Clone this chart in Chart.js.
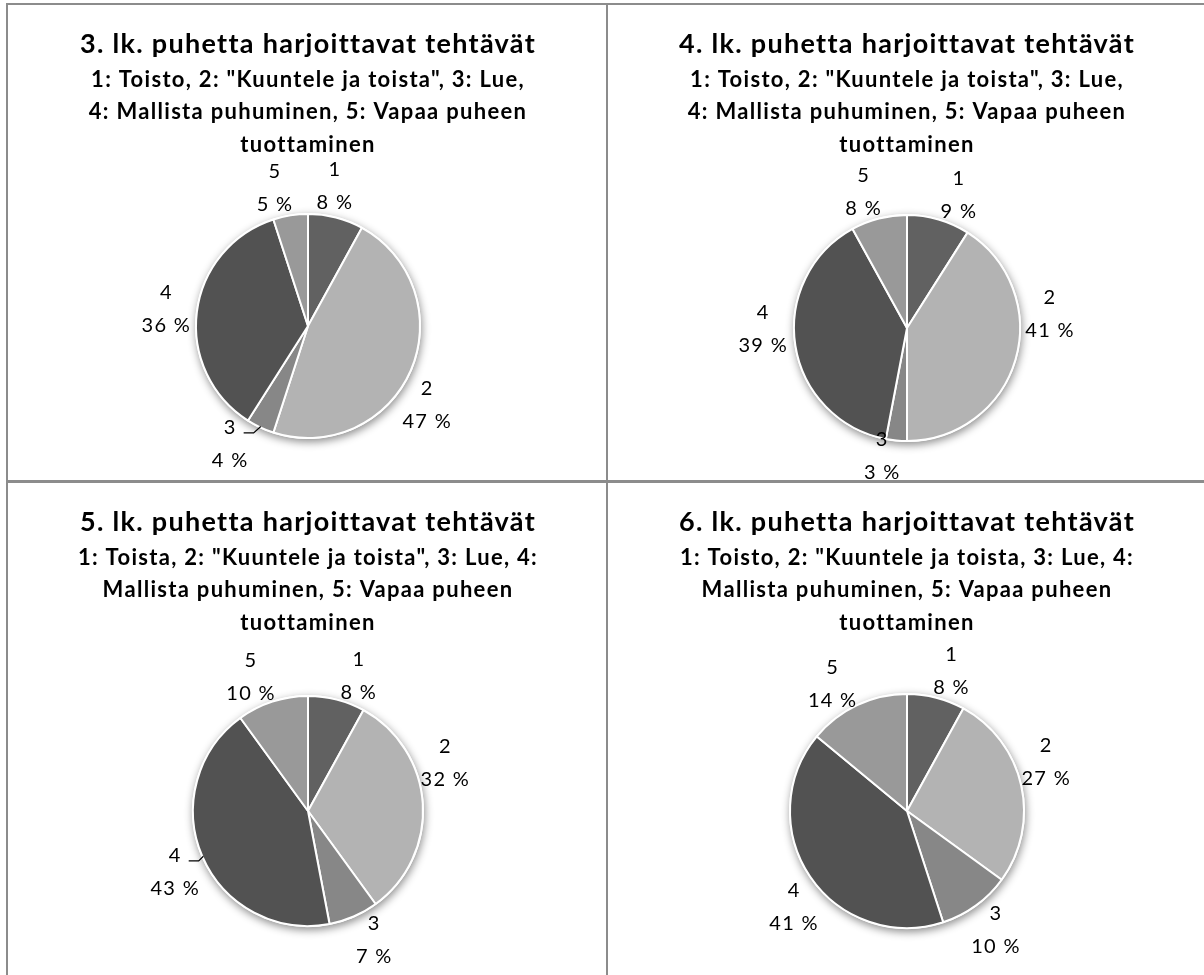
<!DOCTYPE html>
<html>
<head>
<meta charset="utf-8">
<script src="https://cdn.jsdelivr.net/npm/chart.js@4/dist/chart.umd.min.js"></script>
<style>
  html, body { margin: 0; padding: 0; background: #fff; }
  body { width: 1204px; height: 975px; position: relative; overflow: hidden; }
  .rule { position: absolute; background: #8c8c8c; }
  .panel { position: absolute; }
  .panel canvas { display: block; }
</style>
</head>
<body>
<div class="rule" style="left:6px;top:3px;width:2px;height:972px"></div>
<div class="rule" style="left:6px;top:3px;width:1198px;height:2px"></div>
<div class="rule" style="left:606px;top:3px;width:2px;height:972px"></div>
<div class="rule" style="left:6px;top:480px;width:1198px;height:3px"></div>

<div class="panel" style="left:8px;top:5px"><canvas id="grade3" width="598" height="475"></canvas></div>
<div class="panel" style="left:608px;top:5px"><canvas id="grade4" width="596" height="475"></canvas></div>
<div class="panel" style="left:8px;top:483px"><canvas id="grade5" width="598" height="492"></canvas></div>
<div class="panel" style="left:608px;top:483px"><canvas id="grade6" width="596" height="492"></canvas></div>

<script>
// Task categories (1..5) and the share of each task type per grade, in percent
const categories = ['1', '2', '3', '4', '5'];
const grade3Share = [8, 47, 4, 36, 5];
const grade4Share = [9, 41, 3, 39, 8];
const grade5Share = [8, 32, 7, 43, 10];
const grade6Share = [8, 27, 10, 41, 14];

const grade3Title = '3. lk. puhetta harjoittavat tehtävät';
const grade4Title = '4. lk. puhetta harjoittavat tehtävät';
const grade5Title = '5. lk. puhetta harjoittavat tehtävät';
const grade6Title = '6. lk. puhetta harjoittavat tehtävät';

const grade3Legend = ['1: Toisto, 2: "Kuuntele ja toista", 3: Lue,', '4: Mallista puhuminen, 5: Vapaa puheen', 'tuottaminen'];
const grade4Legend = ['1: Toisto, 2: "Kuuntele ja toista", 3: Lue,', '4: Mallista puhuminen, 5: Vapaa puheen', 'tuottaminen'];
const grade5Legend = ['1: Toista, 2: "Kuuntele ja toista", 3: Lue, 4:', 'Mallista puhuminen, 5: Vapaa puheen', 'tuottaminen'];
const grade6Legend = ['1: Toisto, 2: "Kuuntele ja toista, 3: Lue, 4:', 'Mallista puhuminen, 5: Vapaa puheen', 'tuottaminen'];

const sliceColors = ['#616161', '#b3b3b3', '#878787', '#525252', '#999999'];

const FONT = 'Lato, "Open Sans", sans-serif';
const LETTER_SPACING = '1.3px';
Chart.defaults.font.family = FONT;
Chart.defaults.color = '#000';

// Slightly open letter spacing for all canvas text
const textSpacing = {
  id: 'textSpacing',
  beforeDraw(chart) {
    chart.ctx.letterSpacing = LETTER_SPACING;
  }
};

// Soft drop shadow under each pie
const pieShadow = {
  id: 'pieShadow',
  beforeDatasetsDraw(chart) {
    const arc = chart.getDatasetMeta(0).data[0];
    if (!arc) return;
    const { x, y, outerRadius } = arc.getProps(['x', 'y', 'outerRadius'], true);
    const ctx = chart.ctx;
    ctx.save();
    ctx.shadowColor = 'rgba(0,0,0,0.45)';
    ctx.shadowBlur = 9;
    ctx.shadowOffsetX = 1;
    ctx.shadowOffsetY = 3;
    ctx.beginPath();
    ctx.arc(x, y, outerRadius + 1, 0, Math.PI * 2);
    ctx.fillStyle = '#fff';
    ctx.fill();
    ctx.restore();
  }
};

// Two-line outside labels: category on the first line, share on the second
const sliceLabels = {
  id: 'sliceLabels',
  afterDatasetsDraw(chart, args, opts) {
    const ctx = chart.ctx;
    const meta = chart.getDatasetMeta(0);
    const values = chart.data.datasets[0].data;
    const turns = opts.turn || [];
    const leaders = opts.leader || [];
    const step = opts.lineStep;
    const cap = opts.capHeight;
    ctx.save();
    ctx.letterSpacing = LETTER_SPACING;
    ctx.font = opts.size + 'px ' + FONT;
    ctx.fillStyle = '#000';
    ctx.textAlign = 'center';
    ctx.textBaseline = 'alphabetic';
    meta.data.forEach((arc, i) => {
      const { x, y, startAngle, endAngle, outerRadius } =
        arc.getProps(['x', 'y', 'startAngle', 'endAngle', 'outerRadius'], true);
      const mid = (startAngle + endAngle) / 2;
      const a = mid + (turns[i] || 0) * Math.PI / 180;
      const dx = Math.cos(a), dy = Math.sin(a);
      const lines = [chart.data.labels[i], values[i] + ' %'];
      const w = Math.max(...lines.map(t => ctx.measureText(t).width));
      const hw = w / 2 + 2, hh = opts.halfHeight;
      let cx = x + dx * (outerRadius + opts.gap) + dx * hw;
      let cy = y + dy * (outerRadius + opts.gap) + dy * hh;
      cx = Math.min(Math.max(cx, hw), chart.width - hw);
      cy = Math.min(Math.max(cy, step / 2 + cap), chart.height - 1 - step / 2 - cap / 2);
      const b1 = cy - step / 2 + cap / 2;
      const b2 = cy + step / 2 + cap / 2;
      ctx.fillText(lines[0], cx, b1);
      ctx.fillText(lines[1], cx, b2);
      if (leaders[i]) {
        const w1 = ctx.measureText(lines[0]).width;
        const lx = cx + w1 / 2 + 7;
        const ly = b1 - 1;
        ctx.beginPath();
        ctx.moveTo(lx, ly);
        ctx.lineTo(lx + 10, ly);
        ctx.lineTo(x + Math.cos(mid) * (outerRadius - 1), y + Math.sin(mid) * (outerRadius - 1));
        ctx.strokeStyle = '#000';
        ctx.lineWidth = 1.2;
        ctx.stroke();
      }
    });
    ctx.restore();
  }
};

// Title block metrics (canvas pixels)
const TITLE_SIZE = 27, TITLE_LH = 31, TITLE_PAD_TOP = 23.5, TITLE_PAD_BOTTOM = 4;
const SUB_SIZE = 22, SUB_LH = 32.5;

function drawPie(id, title, subtitle, values, layout) {
  const canvas = document.getElementById(id);
  const W = canvas.width, H = canvas.height;
  const side = 2 * layout.r + 2;
  const areaTop = layout.cy - side / 2;
  const titleBox = TITLE_PAD_TOP + TITLE_LH + TITLE_PAD_BOTTOM;
  const subBottom = areaTop - titleBox - SUB_LH * subtitle.length;
  const shift = 2 * layout.cx - W;
  return new Chart(canvas, {
    type: 'pie',
    data: {
      labels: categories,
      datasets: [{
        data: values,
        backgroundColor: sliceColors,
        borderColor: '#ffffff',
        borderWidth: 2
      }]
    },
    plugins: [textSpacing, pieShadow, sliceLabels],
    options: {
      responsive: false,
      animation: false,
      devicePixelRatio: 1,
      layout: {
        padding: {
          left: Math.max(shift, 0),
          right: Math.max(-shift, 0),
          top: 0,
          bottom: H - layout.cy - side / 2
        }
      },
      plugins: {
        legend: { display: false },
        tooltip: { enabled: false },
        title: {
          display: true,
          text: title,
          color: '#000',
          font: { size: TITLE_SIZE, weight: 'bold', lineHeight: TITLE_LH / TITLE_SIZE },
          padding: { top: TITLE_PAD_TOP, bottom: TITLE_PAD_BOTTOM }
        },
        subtitle: {
          display: true,
          text: subtitle,
          color: '#000',
          font: { size: SUB_SIZE, weight: 'bold', lineHeight: SUB_LH / SUB_SIZE },
          padding: { top: 0, bottom: subBottom }
        },
        sliceLabels: {
          size: 20,
          lineStep: 33,
          capHeight: 14,
          gap: 4,
          halfHeight: 27,
          turn: layout.turn,
          leader: layout.leader
        }
      }
    }
  });
}

drawPie('grade3', grade3Title, grade3Legend, grade3Share,
  { cx: 300, cy: 321, r: 112, turn: [-3, 10, 9.6, 0, -5], leader: [0, 0, 1, 0, 0] });
drawPie('grade4', grade4Title, grade4Legend, grade4Share,
  { cx: 299, cy: 323, r: 113, turn: [6, -22, 5, 9, -4], leader: [0, 0, 0, 0, 0] });
drawPie('grade5', grade5Title, grade5Legend, grade5Share,
  { cx: 300, cy: 328, r: 115, turn: [7, -16, -5, -1, -5], leader: [0, 0, 0, 1, 0] });
drawPie('grade6', grade6Title, grade6Legend, grade6Share,
  { cx: 299, cy: 328, r: 117, turn: [4, -7, -1, -6, -5], leader: [0, 0, 0, 0, 0] });
</script>
</body>
</html>
